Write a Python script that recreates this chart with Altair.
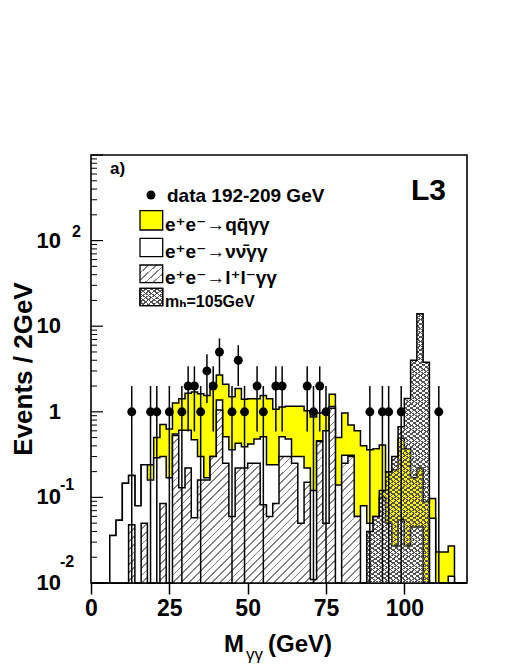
import altair as alt
import pandas as pd

FONT = "Liberation Sans, DejaVu Sans, sans-serif"
W, H = 376, 428

# ---------------- data ----------------
bin_lo = list(range(0, 120, 2))
total = [0, 0, 0, 0.036, 0.054, 0.146, 0.18, 0.08, 0.24, 0.24,
         0.50, 0.71, 0.63, 1.27, 1.42, 1.65, 1.70, 1.62, 1.55, 2.14,
         2.70, 2.10, 1.50, 1.87, 1.40, 1.42, 1.42, 1.55, 1.42, 1.07,
         1.14, 1.16, 1.16, 1.16, 1.03, 0.87, 0.97, 0.97, 1.60, 0.50,
         0.97, 0.70, 0.60, 0.40, 0.36, 0.37, 0.41, 0.20, 0.21, 0.49,
         0.37, 0.17, 0.22, 0.089, 0.097, 0.023, 0.023, 0.027, 0, 0]
nunu = [0, 0, 0, 0.036, 0.054, 0.146, 0.18, 0.08, 0.24, 0.16,
        0.29, 0.30, 0.17, 0.55, 0.61, 0.61, 0.47, 0.30, 0.17, 0.30,
        1.37, 0.51, 0.36, 0.43, 0.39, 0.42, 0.48, 0.51, 0.24, 0.24,
        0.51, 0.48, 0.30, 0.30, 0.22, 0.12, 0.46, 0.60, 1.15, 0.14,
        0.31, 0.31, 0.06, 0.08, 0.05, 0.06, 0.10, 0.05, 0.027, 0.055,
        0.027, 0.045, 0.045, 0, 0.057, 0, 0, 0.012, 0, 0]
lepton = [0, 0, 0, 0, 0, 0, 0.048, 0, 0.05, 0,
          0, 0.085, 0, 0.53, 0.13, 0.22, 0.058, 0.16, 0.16, 0.30,
          1.05, 0.25, 0.06, 0.22, 0.22, 0.25, 0.25, 0.082, 0.06, 0.085,
          0.30, 0.30, 0.25, 0.05, 0.15, 0.011, 0.45, 0.05, 1.10, 0,
          0.25, 0.30, 0.06, 0, 0, 0, 0, 0, 0, 0,
          0, 0, 0, 0, 0, 0, 0, 0, 0, 0]
higgs = [0] * 44 + [0.04, 0.06, 0.12, 0.20, 0.30, 0.67, 1.43, 4.0, 14.0, 3.8] + [0] * 6

data_m = [13, 19, 21, 25, 29, 31, 33, 35, 37, 39, 41, 45, 47, 49, 53, 55, 59, 61,
          69, 71, 73, 75, 89, 93, 95, 99, 111]
data_n = [1, 1, 1, 1, 1, 2, 2, 1, 3, 2, 5, 1, 4, 1, 2, 1, 2, 2,
          2, 1, 2, 1, 1, 1, 1, 1, 1]
data_lo = [0.01, 0.01, 0.01, 0.01, 0.01, 0.59, 0.59, 0.01, 1.27, 0.59, 2.76, 0.01, 2.0, 0.01,
           0.59, 0.01, 0.59, 0.59, 0.59, 0.01, 0.59, 0.01, 0.01, 0.01, 0.01, 0.01, 0.01]
data_hi = [2.0, 2.0, 2.0, 2.0, 2.0, 3.4, 3.4, 2.0, 4.7, 3.4, 7.2, 2.0, 6.0, 2.0,
           3.4, 2.0, 3.4, 3.4, 3.4, 2.0, 3.4, 2.0, 2.0, 2.0, 2.0, 2.0, 2.0]

x_ticks = [0, 25, 50, 75, 100]
y_major = [0.01, 0.1, 1, 10, 100, 1000]
y_minor = [k * d for d in [0.01, 0.1, 1, 10, 100] for k in range(2, 10)]
y_label_vals = [0.01, 0.1, 1, 10, 100]
y_label_txt = ["10", "10", "1", "10", "10"]

legend_labels = ["e\u207ae\u207b\u2192qq\u0304\u03b3\u03b3",
                 "e\u207ae\u207b\u2192\u03bd\u03bd\u0304\u03b3\u03b3",
                 "e\u207ae\u207b\u2192l\u207al\u207b\u03b3\u03b3",
                 "m\u2095=105GeV"]

# ---------------- tables ----------------
edges = bin_lo + [120]
hist = pd.DataFrame({
    "m": edges,
    "total": total + [total[-1]],
    "nunu": nunu + [nunu[-1]],
    "lepton": lepton + [lepton[-1]],
    "higgs": higgs + [higgs[-1]],
})
pts = pd.DataFrame({"m": data_m, "n": data_n, "lo": data_lo, "hi": data_hi})
one = pd.DataFrame({"a": [0]})

xs = alt.Scale(domain=[0, 120], nice=False, zero=False)
ys = alt.Scale(type="log", domain=[0.01, 1000], nice=False)
xaxis = alt.Axis(values=x_ticks, tickSize=11, tickWidth=1.5, tickColor="black",
                 domain=False, grid=False, labelFontSize=23, labelFontWeight="bold",
                 labelFont=FONT, labelColor="black", labelPadding=3, labelFlush=False,
                 labelOverlap=False, title=None, format="d")


def X(field):
    return alt.X(field, scale=xs, axis=xaxis)


def Y(field):
    return alt.Y(field, scale=ys, axis=None)


def stripes(n, c_line, c_bg, duty, x1, y1, x2, y2):
    stops = []
    for k in range(n):
        a = k / n
        b = (k + duty) / n
        c = (k + 1) / n
        stops += [alt.GradientStop(color=c_line, offset=a),
                  alt.GradientStop(color=c_line, offset=b),
                  alt.GradientStop(color=c_bg, offset=b),
                  alt.GradientStop(color=c_bg, offset=c)]
    return alt.LinearGradient(gradient="linear", stops=stops, x1=x1, y1=y1, x2=x2, y2=y2)


CLEAR = "rgba(255,255,255,0)"
hatch_big = stripes(59, "#808080", "white", 0.22, 0, 0, 1, 0.465)
cross_a = stripes(125, "#555555", CLEAR, 0.3, 0, 0, 1, 1)
cross_b = stripes(125, "#555555", CLEAR, 0.3, 1, 0, 0, 1)


def hist_area(field, fill, with_line=True):
    kw = dict(interpolate="step-after", color=fill, opacity=1, fillOpacity=1)
    if with_line:
        kw["line"] = alt.OverlayMarkDef(color="black", strokeWidth=1.5, interpolate="step-after")
    return alt.Chart(hist).transform_calculate(
        v=f"max(datum['{field}'], 0.01)"
    ).mark_area(**kw).encode(
        x=X("m:Q"),
        y=Y("v:Q"),
        y2=alt.datum(0.01),
    )


layers = [
    hist_area("total", "#ffff00"),
    hist_area("nunu", "white"),
    hist_area("lepton", hatch_big),
    hist_area("higgs", cross_a, with_line=False),
    hist_area("higgs", cross_b, with_line=False),
    alt.Chart(hist).transform_calculate(v="max(datum.higgs, 0.01)").mark_line(
        interpolate="step-after", color="black", strokeWidth=1.5).encode(
        x=X("m:Q"), y=Y("v:Q")),
]

# inner y ticks
layers.append(alt.Chart(pd.DataFrame({"v": y_major})).mark_rule(color="black", strokeWidth=1.2).encode(
    y=Y("v:Q"), x=alt.value(0), x2=alt.value(12)))
layers.append(alt.Chart(pd.DataFrame({"v": y_minor})).mark_rule(color="black", strokeWidth=1.0).encode(
    y=Y("v:Q"), x=alt.value(0), x2=alt.value(6)))

# y labels
layers.append(alt.Chart(pd.DataFrame({"v": y_label_vals, "t": y_label_txt})).mark_text(
    align="right", baseline="middle", fontSize=22, fontWeight="bold", font=FONT, color="black").encode(
    y=Y("v:Q"), x=alt.value(-30), text="t:N"))
for val, txt, dx, dy in [(100, "2", -19, -9), (0.1, "-1", -31, -12), (0.01, "-2", -31, -21)]:
    layers.append(alt.Chart(pd.DataFrame({"v": [val], "t": [txt]})).mark_text(
        align="left", baseline="middle", fontSize=16, fontWeight="bold", font=FONT, color="black",
        dy=dy).encode(y=Y("v:Q"), x=alt.value(dx), text="t:N"))

# data points with error bars
layers.append(alt.Chart(pts).mark_rule(color="black", strokeWidth=1.5).encode(
    x=X("m:Q"), y=Y("lo:Q"), y2="hi:Q"))
layers.append(alt.Chart(pts).transform_calculate(a="datum.m - 1", b="datum.m + 1").mark_rule(
    color="black", strokeWidth=1.5).encode(
    x=X("a:Q"), x2="b:Q", y=Y("n:Q")))
layers.append(alt.Chart(pts).mark_circle(color="black", size=80, opacity=1).encode(
    x=X("m:Q"), y=Y("n:Q")))


def text(txt, x, y, size, align="left", baseline="alphabetic", angle=0, weight="bold"):
    return alt.Chart(one).mark_text(text=txt, align=align, baseline=baseline, fontSize=size,
                                    fontWeight=weight, font=FONT, angle=angle, color="black").encode(
        x=alt.value(x), y=alt.value(y))


def box(x1, x2, y1, y2, fill):
    return alt.Chart(one).mark_rect(color=fill, stroke="black", strokeWidth=1.3, opacity=1).encode(
        x=alt.value(x1), x2=alt.value(x2), y=alt.value(y1), y2=alt.value(y2))


# legend
layers.append(alt.Chart(one).mark_circle(color="black", size=80, opacity=1).encode(
    x=alt.value(60), y=alt.value(40)))
layers.append(text("data 192-209 GeV", 76, 47, 19))
box_y = [(55.7, 75), (83.3, 101.7), (110, 127.7), (133.3, 150.7)]
hatch_small = stripes(5, "#808080", "white", 0.22, 0, 0, 1, 0.85)
cross_sa = stripes(8, "#555555", "white", 0.3, 0, 0, 1, 1)
cross_sb = stripes(8, "#555555", CLEAR, 0.3, 1, 0, 0, 1)
fills = ["#ffff00", "white", hatch_small, cross_sa]
for (y1, y2), f, lab in zip(box_y, fills, legend_labels):
    layers.append(box(49, 71.7, y1, y2, f))
    if f is cross_sa:
        layers.append(box(49, 71.7, y1, y2, cross_sb))
    layers.append(text(lab, 74, y2 + 1, 16 if lab.startswith("m") else 19))

layers.append(text("a)", 19, 19, 17))
layers.append(text("L3", 320, 45, 30))

# axis titles
layers.append(text("Events / 2GeV", -67, H / 2, 26, align="center", baseline="middle", angle=270))
layers.append(text("M", 133, 497, 24))
layers.append(text("\u03b3\u03b3", 155, 505, 17, weight="normal"))
layers.append(text("(GeV)", 177, 497, 24))

chart = alt.layer(*layers).properties(
    width=W, height=H,
    autosize=alt.AutoSizeParams(type="none"),
    padding={"left": 83, "top": 147, "right": 30, "bottom": 80},
).configure_view(stroke="black", strokeWidth=1.6)

chart.save("out.html", embed_options={"renderer": "svg", "actions": False})
